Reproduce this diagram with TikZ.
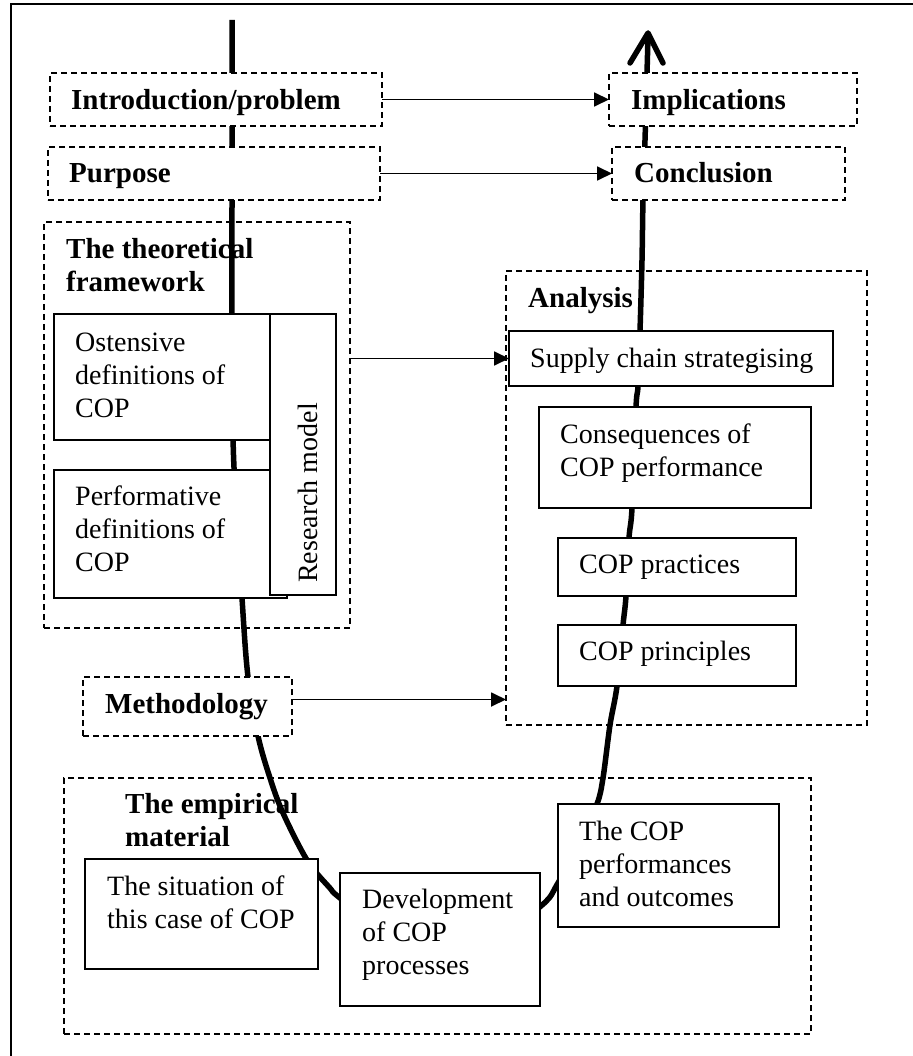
\documentclass[tikz,border=0pt]{standalone}
\usepackage{fontspec}
\setmainfont{Liberation Serif}
\usetikzlibrary{arrows.meta}
\begin{document}
\begin{tikzpicture}[x=1pt,y=-1pt,
  dashbox/.style={draw, line width=1.4pt, dash pattern=on 6pt off 4pt,
    inner sep=0pt, outer sep=0pt, anchor=north west},
  stage/.style={dashbox, fill=white},
  group/.style={dashbox},
  solidbox/.style={draw, line width=1.6pt, fill=white,
    inner sep=0pt, outer sep=0pt, anchor=north west},
  % multi-line labels are placed by the baseline of their last line
  head/.style={anchor=base west, inner sep=0pt, align=left,
    font=\fontsize{29}{33}\selectfont\bfseries},
  body/.style={anchor=base west, inner sep=0pt, align=left,
    font=\fontsize{28}{33}\selectfont},
  link/.style={line width=1.8pt, -{Triangle[length=15pt,width=14pt]}},
  spine/.style={line width=5.5pt, line join=round},
]
\useasboundingbox (0,0) rectangle (912,1056);

% page frame (top and left rules)
\draw[line width=2pt] (11,1060) -- (11,4) -- (914,4);

% grouping frames
\node[group, minimum width=306pt, minimum height=406pt] (theory) at (44,222) {};
\node[head] (theoryT) at (66,291) {The theoretical\\framework};
\node[group, minimum width=361pt, minimum height=454pt] (analysis) at (506,271) {};
\node[head] (analysisT) at (528,307) {Analysis};
\node[group, minimum width=747pt, minimum height=256pt] (empirical) at (64,778) {};
\node[head] (empiricalT) at (125,846) {The empirical\\material};

% the thick path through the stages
\coordinate (start) at (232,20);
\coordinate (tip) at (648,33);
\draw[spine] plot[smooth, tension=0.55] coordinates {
  (232,20) (232,110) (232,200) (232,314) (233.5,455) (242,598)
  (248,677) (258,736) (270,778) (283,813) (307,860) (329,887) (345,902)
  (440,975) (536,910) (558,883) (580,840) (597,804) (603,778) (610,725)
  (617,686) (623,625) (626,596) (629,538) (632,508) (636,407) (638,386)
  (640,331) (642,260) (643,200) (645,140) (647,73) (648,36)};
\draw[spine, line cap=round] ([shift={(-18,30)}]tip) -- (tip) -- ([shift={(15,30)}]tip);

% stages along the path
\node[stage, minimum width=332pt, minimum height=53pt] (intro) at (50,73) {};
\node[head] (introT) at (71,110) {Introduction/problem};
\node[stage, minimum width=332pt, minimum height=53pt] (purpose) at (48,147) {};
\node[head] (purposeT) at (69,183) {Purpose};
\node[stage, minimum width=248pt, minimum height=53pt] (impl) at (609,73) {};
\node[head] (implT) at (631,110) {Implications};
\node[stage, minimum width=233pt, minimum height=53pt] (concl) at (612,147) {};
\node[head] (conclT) at (634,183) {Conclusion};
\node[stage, minimum width=209pt, minimum height=59pt] (meth) at (83,677) {};
\node[head] (methT) at (105,713) {Methodology};

% theoretical framework
\node[solidbox, minimum width=246pt, minimum height=126pt] (ost) at (54,314) {};
\node[body] (ostT) at (75,417) {Ostensive\\definitions of\\COP};
\node[solidbox, minimum width=233pt, minimum height=128pt] (perf) at (54,470) {};
\node[body] (perfT) at (75,571) {Performative\\definitions of\\COP};
\node[solidbox, minimum width=66pt, minimum height=281pt] (research) at (270,314) {};
\node[body, rotate=90] (researchT) at (317,583) {Research model};

% analysis
\node[solidbox, minimum width=324pt, minimum height=55pt] (supply) at (509,331) {};
\node[body] (supplyT) at (530,367) {Supply chain strategising};
\node[solidbox, minimum width=272pt, minimum height=101pt] (conseq) at (539,407) {};
\node[body] (conseqT) at (560,476) {Consequences of\\COP performance};
\node[solidbox, minimum width=238pt, minimum height=58pt] (practices) at (558,538) {};
\node[body] (practicesT) at (579,573) {COP practices};
\node[solidbox, minimum width=238pt, minimum height=61pt] (principles) at (558,625) {};
\node[body] (principlesT) at (579,660) {COP principles};

% empirical material
\node[solidbox, minimum width=233pt, minimum height=110pt] (situation) at (85,859) {};
\node[body] (situationT) at (107,928) {The situation of\\this case of COP};
\node[solidbox, minimum width=200pt, minimum height=133pt] (develop) at (340,873) {};
\node[body] (developT) at (362,974) {Development\\of COP\\processes};
\node[solidbox, minimum width=221pt, minimum height=123pt] (outcome) at (558,804) {};
\node[body] (outcomeT) at (579,906) {The COP\\performances\\and outcomes};

% connectors
\draw[link] (intro.east) -- (impl.west);
\draw[link] (purpose.east) -- (concl.west);
\draw[link] (theory.east |- supply.west) -- (supply.west);
\draw[link] ([yshift=7pt]meth.east) -- ([yshift=7pt]meth.east -| analysis.west);
\end{tikzpicture}
\end{document}
